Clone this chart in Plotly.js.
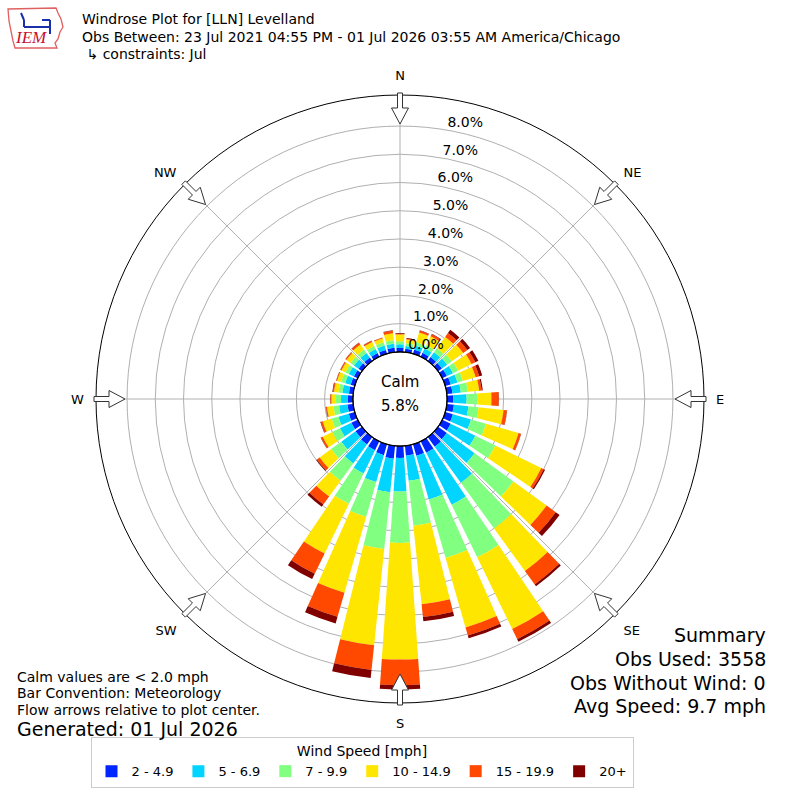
<!DOCTYPE html>
<html>
<head>
<meta charset="utf-8">
<script src="https://cdn.plot.ly/plotly-3.0.1.min.js"></script>
<style>html,body{margin:0;padding:0;background:#fff;}#chart{width:800px;height:800px;}</style>
</head>
<body>
<div id="chart"></div>
<script>
// Direction bins (degrees, meteorological "from" direction)
const directions = [0,10,20,30,40,50,60,70,80,90,100,110,120,130,140,150,160,170,
                    180,190,200,210,220,230,240,250,260,270,280,290,300,310,320,330,340,350];
// Frequency (%) per speed band for each direction
const s2to5   = [0.14,0.12,0.15,0.15,0.17,0.17,0.18,0.20,0.20,0.22,0.25,0.28,0.33,0.38,0.42,0.45,0.42,0.35,
                 0.42,0.46,0.40,0.35,0.32,0.28,0.25,0.22,0.20,0.18,0.15,0.15,0.15,0.15,0.15,0.14,0.14,0.16];
const s5to7   = [0.13,0.10,0.15,0.17,0.21,0.23,0.24,0.25,0.30,0.47,0.52,0.67,0.97,1.22,1.58,2.05,1.61,0.89,
                 1.19,1.19,0.99,0.92,0.83,0.62,0.45,0.38,0.30,0.24,0.23,0.20,0.20,0.20,0.20,0.16,0.16,0.14];
const s7to10  = [0.11,0.10,0.12,0.13,0.17,0.20,0.20,0.20,0.25,0.38,0.36,0.55,0.79,1.70,2.00,2.07,2.16,1.61,
                 1.82,2.02,1.28,1.19,0.76,0.45,0.30,0.25,0.20,0.18,0.14,0.15,0.13,0.15,0.15,0.12,0.12,0.12];
const s10to15 = [0.24,0.13,0.36,0.35,0.50,0.50,0.53,0.47,0.40,0.50,0.89,1.20,1.81,1.45,1.86,2.83,2.56,2.79,
                 4.13,3.43,2.80,1.96,0.69,0.50,0.38,0.33,0.23,0.16,0.16,0.15,0.16,0.18,0.22,0.16,0.14,0.25];
const s15to20 = [0.02,0.03,0.07,0.08,0.17,0.18,0.15,0.13,0.09,0.26,0.12,0.09,0.10,0.40,0.59,0.40,0.30,0.46,
                 0.91,0.88,0.89,0.80,0.35,0.12,0.07,0.07,0.04,0.04,0.04,0.03,0.04,0.04,0.07,0.05,0.03,0.09];
const s20plus = [0.03,0.02,0.01,0.02,0.14,0.12,0.12,0.11,0.04,0.01,0.01,0.01,0.05,0.17,0.08,0.10,0.10,0.15,
                 0.15,0.29,0.24,0.21,0.10,0.03,0.01,0.02,0.01,0.01,0.02,0.01,0.01,0.01,0.02,0.01,0.01,0.02];
const bandNames  = ['2 - 4.9','5 - 6.9','7 - 9.9','10 - 14.9','15 - 19.9','20+'];
const bandValues = [s2to5, s5to7, s7to10, s10to15, s15to20, s20plus];
const bandColors = ['#0026ff','#00d4ff','#80ff80','#ffe600','#ff4800','#800000'];

const compassVals = [0,45,90,135,180,225,270,315];
const compassText = ['N','NE','E','SE','S','SW','W','NW'];
const ringVals = [0,1,2,3,4,5,6,7,8];
const ringLabels = ringVals.map(v => v.toFixed(1) + '%');

const traces = bandValues.map((vals, i) => ({
  type: 'barpolar',
  name: bandNames[i],
  r: vals,
  theta: directions,
  width: directions.map(() => 8),
  marker: {color: bandColors[i], line: {width: 0}},
  hoverinfo: 'skip'
}));
// ring labels placed through the polar scale (bottom-left corner on each ring at 10 deg)
traces.push({
  type: 'scatterpolar', mode: 'text', r: ringVals, theta: ringVals.map(() => 10),
  text: ringLabels, textposition: 'top right', cliponaxis: false,
  textfont: {family: 'DejaVu Sans, Verdana, sans-serif', size: 14, color: 'black'},
  showlegend: false, hoverinfo: 'skip'
});

// helpers: pixel -> paper
const W = 800, H = 800;
const px = x => x / W;
const py = y => 1 - y / H;
const CX = 400, CY = 399, R = 304, HOLE = 0.155;

// flow arrows at the eight compass points
const shapes = [];
compassVals.forEach(a => {
  const t = a * Math.PI / 180;
  const ux = Math.sin(t), uy = -Math.cos(t);
  const vx = Math.cos(t), vy = Math.sin(t);
  const P = (r, o) => [CX + ux * r + vx * o, CY + uy * r + vy * o];
  const pts = [P(306,-2.5), P(291,-2.5), P(291,-8.5), P(275,0), P(291,8.5), P(291,2.5), P(306,2.5)];
  const d = 'M ' + pts.map(p => px(p[0]).toFixed(5) + ',' + py(p[1]).toFixed(5)).join(' L ') + ' Z';
  shapes.push({type:'path', xref:'paper', yref:'paper', path:d, fillcolor:'white',
               line:{color:'#333333', width:1}, layer:'above'});
});
// calm circle border
const hr = R * HOLE;
shapes.push({type:'circle', xref:'paper', yref:'paper', x0:px(CX-hr), x1:px(CX+hr), y0:py(CY+hr), y1:py(CY-hr),
             line:{color:'black', width:1.2}, fillcolor:'rgba(0,0,0,0)', layer:'above'});
// IEM logo (Iowa outline + icon)
const iowa = [[8,9],[56,8],[58,13],[61,19],[63,27],[60,32],[58,39],[55,43],[57,48],[15,48],[13,41],[11,31],[9,21]];
shapes.push({type:'path', xref:'paper', yref:'paper',
  path:'M ' + iowa.map(p => px(p[0]).toFixed(5) + ',' + py(p[1]).toFixed(5)).join(' L ') + ' Z',
  line:{color:'#e06060', width:1.3}, fillcolor:'rgba(0,0,0,0)'});
const icon = [[[24,27],[50,27]],[[42,20],[50,20]],[[50,20],[50,34]],[[21,13],[24,20]],[[24,20],[24,27]]];
icon.forEach(seg => shapes.push({type:'line', xref:'paper', yref:'paper',
  x0:px(seg[0][0]), y0:py(seg[0][1]), x1:px(seg[1][0]), y1:py(seg[1][1]), line:{color:'#1a2faa', width:2}}));

const F = 'DejaVu Sans, Verdana, sans-serif';
const ann = (text, x, y, size, xanchor, extra) => Object.assign({
  text, x: px(x), y: py(y), xref:'paper', yref:'paper', showarrow:false,
  xanchor: xanchor || 'left', yanchor:'middle', font:{family:F, size:size || 13, color:'black'}
}, extra || {});

const annotations = [
  ann('Windrose Plot for [LLN] Levelland', 80, 19, 14),
  ann('Obs Between: 23 Jul 2021 04:55 PM - 01 Jul 2026 03:55 AM America/Chicago', 80, 37, 14),
  ann(' ↳ constraints: Jul', 80, 54, 14),
  ann('Calm', 400, 382, 15, 'center'),
  ann('5.8%', 400, 406, 15, 'center'),
  ann('Calm values are < 2.0 mph', 15, 677, 14),
  ann('Bar Convention: Meteorology', 15, 693, 14),
  ann('Flow arrows relative to plot center.', 15, 710, 14),
  ann('Generated: 01 Jul 2026', 15, 729, 19),
  ann('Summary', 768, 635, 19, 'right'),
  ann('Obs Used: 3558', 768, 659, 19, 'right'),
  ann('Obs Without Wind: 0', 768, 683, 19, 'right'),
  ann('Avg Speed: 9.7 mph', 768, 706, 19, 'right'),
  ann('<i>IEM</i>', 31, 38, 17, 'center', {font:{family:'Liberation Serif, serif', size:17, color:'#c8102e'}})
];

const layout = {
  width: W, height: H,
  margin: {l:0, r:0, t:0, b:0},
  paper_bgcolor: 'white',
  font: {family: F, size: 13, color: 'black'},
  showlegend: true,
  legend: {
    orientation: 'h', x: 0.4525, xanchor: 'center', y: 0.015, yanchor: 'bottom',
    bordercolor: '#cccccc', borderwidth: 1, bgcolor: 'white',
    title: {text: 'Wind Speed [mph]', side: 'top center', font: {family: F, size: 14}},
    font: {family: F, size: 13}, traceorder: 'normal'
  },
  polar: {
    domain: {x: [0.12, 0.88], y: [0.12125, 0.88125]},
    hole: HOLE,
    bgcolor: 'white',
    barmode: 'stack',
    layer: 'above traces',
    angularaxis: {
      direction: 'clockwise', rotation: 90,
      tickmode: 'array', tickvals: compassVals, ticktext: compassText,
      ticks: 'outside', ticklen: 9, tickcolor: 'rgba(0,0,0,0)',
      showline: true, linecolor: 'black', linewidth: 1,
      showgrid: true, gridcolor: '#b0b0b0', gridwidth: 1,
      tickfont: {family: F, size: 13}
    },
    radialaxis: {
      range: [0, 9.1], tickmode: 'array', tickvals: ringVals,
      showticklabels: false, showline: false, ticks: '',
      showgrid: true, gridcolor: '#b0b0b0', gridwidth: 1
    }
  },
  shapes, annotations
};

Plotly.newPlot('chart', traces, layout, {staticPlot: true});
</script>
</body>
</html>
